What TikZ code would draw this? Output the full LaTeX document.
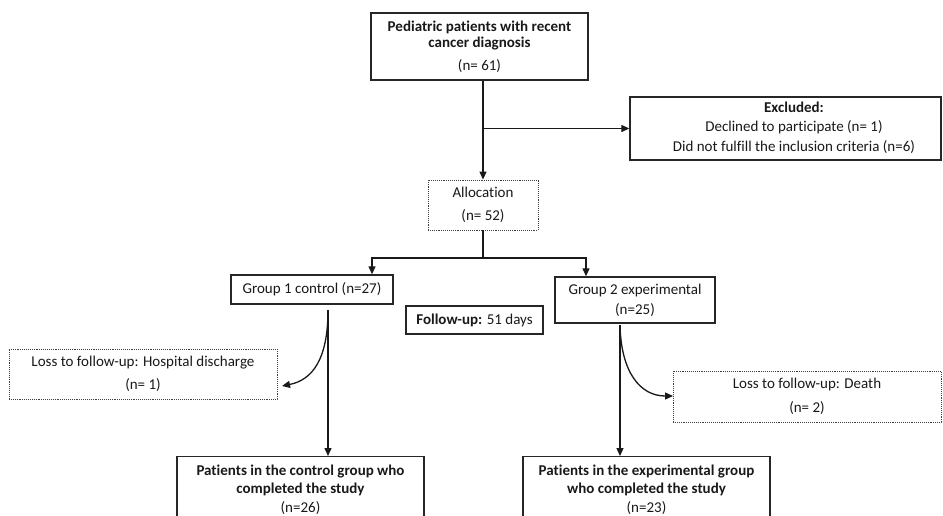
\documentclass[tikz,border=0pt]{standalone}
\usepackage{fontspec}
\setmainfont[RawFeature={-liga;-dlig}]{Carlito}
\usetikzlibrary{arrows.meta,calc}
\begin{document}
\begin{tikzpicture}[x=1pt,y=-1pt,
  solidbox/.style={draw=black!85, line width=1.4pt, inner sep=0pt, align=center, text=black!90},
  dotbox/.style={draw=black!75, densely dotted, line width=0.9pt, inner sep=0pt, align=center, text=black!90},
  conn/.style={line width=1.3pt, draw=black!90},
  arr/.style={conn, -{Triangle[length=8pt,width=7pt]}}]
\path[use as bounding box, clip] (0,0) rectangle (943,515);
\fill[white] (0,0) rectangle (943,515);

\node[solidbox, minimum width=217pt, minimum height=67pt, font=\fontsize{15}{16.6}\selectfont\bfseries] (top) at (479.5,46.5)
  {Pediatric patients with recent\\cancer diagnosis\\[5.8pt]{\mdseries (n= 61)}};

\node[solidbox, minimum width=311pt, minimum height=63pt] (excl) at (785.5,128.5) {};
\node[align=center, inner sep=0pt, text=black!90, font=\fontsize{15}{19.5}\selectfont] (excltext) at (794,127.5)
  {\textbf{Excluded:}\\Declined to participate (n= 1)\\Did not fulfill the inclusion criteria (n=6)};

\node[dotbox, minimum width=110pt, minimum height=50pt, font=\fontsize{15}{23}\selectfont] (alloc) at (483,205)
  {Allocation\\(n= 52)};

\node[solidbox, minimum width=162pt, minimum height=29pt, font=\fontsize{15}{18}\selectfont] (g1) at (312,289.5)
  {Group 1 control (n=27)};
\node[solidbox, minimum width=160pt, minimum height=46pt, font=\fontsize{15}{20}\selectfont] (g2) at (635,300)
  {Group 2 experimental\\(n=25)};
\node[solidbox, minimum width=137pt, minimum height=28pt, font=\fontsize{15}{18}\selectfont] (fu) at (474.5,320)
  {\textbf{Follow-up:} 51 days};

\node[dotbox, minimum width=268pt, minimum height=50pt, font=\fontsize{15}{23}\selectfont] (loss1) at (143,374)
  {Loss to follow-up: Hospital discharge\\(n= 1)};
\node[dotbox, minimum width=268pt, minimum height=51pt, font=\fontsize{15}{23.5}\selectfont] (loss2) at (807,396.5)
  {Loss to follow-up: Death\\(n= 2)};

\node[solidbox, anchor=north, minimum width=247pt, inner ysep=8pt, text depth=40pt, font=\fontsize{15}{18.5}\selectfont\bfseries] (b1) at (300.5,456)
  {Patients in the control group who\\completed the study\\{\mdseries (n=26)}};
\node[solidbox, anchor=north, minimum width=247pt, inner ysep=8pt, text depth=40pt, font=\fontsize{15}{18.5}\selectfont\bfseries] (b2) at (646.5,456)
  {Patients in the experimental group\\who completed the study\\{\mdseries (n=23)}};

% connectors
\draw[arr] (top.south -| alloc.north) -- (alloc.north);
\draw[arr] (alloc.north |- excl.west) -- (excl.west);

\coordinate (split) at (483,258);
\coordinate (j1) at (372,258);
\coordinate (j2) at (586,258);
\draw[conn] (alloc.south) -- (split);
\draw[arr] (split) -- (j1) -- (j1 |- g1.north);
\draw[arr] (split) -- (j2) -- (j2 |- g2.north);

\coordinate (s1) at (328,310);
\coordinate (s2) at (620,325);
\coordinate (t1) at (282,386);
\coordinate (t2) at (673,396);
\draw[arr] (s1) -- (s1 |- b1.north);
\draw[arr] (s2) -- (s2 |- b2.north);
\draw[arr] (s1) .. controls (328,360) and (312,380) .. (t1);
\draw[arr] (s2) .. controls (621,372) and (640,396) .. (t2);
\end{tikzpicture}
\end{document}
